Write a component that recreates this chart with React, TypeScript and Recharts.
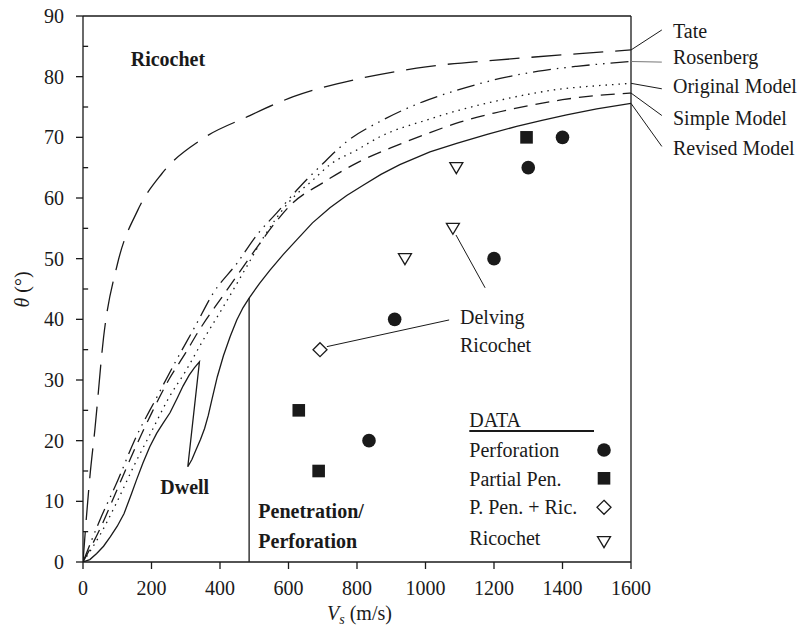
import React from 'react';
import { ComposedChart, Line, Scatter, XAxis, YAxis, ReferenceLine } from 'recharts';

const W = 801;
const H = 629;
const PLOT = { left: 83, top: 16, right: 631, bottom: 562 };
const X_MAX = 1600;
const Y_MAX = 90;
const FONT = '"Liberation Serif", "Times New Roman", serif';
const INK = '#1a1a1a';

const xTicks = [0, 200, 400, 600, 800, 1000, 1200, 1400, 1600];
const yTicks = [0, 10, 20, 30, 40, 50, 60, 70, 80, 90];
const yMinorTicks = [5, 15, 25, 35, 45, 55, 65, 75, 85];

const tate = [
  { x: 0, y: 0 }, { x: 8, y: 6 }, { x: 20, y: 14 }, { x: 35, y: 22 }, { x: 60, y: 37 },
  { x: 100, y: 49 }, { x: 160, y: 58 }, { x: 230, y: 64 }, { x: 350, y: 69.8 },
  { x: 480, y: 73.4 }, { x: 614, y: 76.7 }, { x: 809, y: 79.7 }, { x: 974, y: 81.4 },
  { x: 1266, y: 83 }, { x: 1450, y: 83.8 }, { x: 1600, y: 84.4 },
];

const rosenberg = [
  { x: 0, y: 0 }, { x: 50, y: 7 }, { x: 102, y: 13.5 }, { x: 150, y: 20 }, { x: 214, y: 27 },
  { x: 270, y: 33 }, { x: 327, y: 38.8 }, { x: 380, y: 44.3 }, { x: 449, y: 49.2 },
  { x: 512, y: 54.2 }, { x: 565, y: 57.5 }, { x: 634, y: 61.9 }, { x: 692, y: 65.2 },
  { x: 770, y: 69.3 }, { x: 877, y: 72.9 }, { x: 994, y: 75.9 }, { x: 1100, y: 77.9 },
  { x: 1218, y: 79.7 }, { x: 1330, y: 80.9 }, { x: 1441, y: 81.7 }, { x: 1600, y: 82.5 },
];

const original = [
  { x: 0, y: 0 }, { x: 50, y: 4.5 }, { x: 100, y: 10 }, { x: 150, y: 16 }, { x: 200, y: 21.5 },
  { x: 250, y: 27 }, { x: 300, y: 31.5 }, { x: 351, y: 36.6 }, { x: 410, y: 42.1 },
  { x: 478, y: 48.7 }, { x: 527, y: 53.5 }, { x: 604, y: 59.5 }, { x: 672, y: 63 },
  { x: 721, y: 65.5 }, { x: 799, y: 67.9 }, { x: 867, y: 70.1 }, { x: 1000, y: 72.8 },
  { x: 1100, y: 74.5 }, { x: 1200, y: 75.9 }, { x: 1300, y: 77.1 }, { x: 1400, y: 78 },
  { x: 1500, y: 78.5 }, { x: 1600, y: 78.9 },
];

const simple = [
  { x: 0, y: 0 }, { x: 50, y: 5.5 }, { x: 100, y: 12 }, { x: 150, y: 18.5 }, { x: 200, y: 24.5 },
  { x: 250, y: 30 }, { x: 300, y: 34.5 }, { x: 337, y: 38 }, { x: 420, y: 44.8 },
  { x: 502, y: 51.4 }, { x: 565, y: 56.2 }, { x: 609, y: 59 }, { x: 700, y: 62.5 },
  { x: 800, y: 65.8 }, { x: 900, y: 68.3 }, { x: 1000, y: 70.5 }, { x: 1100, y: 72.5 },
  { x: 1200, y: 74 }, { x: 1300, y: 75.2 }, { x: 1400, y: 76.2 }, { x: 1500, y: 76.9 },
  { x: 1600, y: 77.3 },
];

const revised = [
  { x: 0, y: 0 }, { x: 20, y: 0.4 }, { x: 40, y: 1.4 }, { x: 60, y: 2.6 }, { x: 80, y: 4.2 },
  { x: 100, y: 5.9 }, { x: 120, y: 8 }, { x: 140, y: 11 }, { x: 156, y: 13.5 },
  { x: 175, y: 16.3 }, { x: 195, y: 19 }, { x: 215, y: 21.2 }, { x: 234, y: 22.9 },
  { x: 254, y: 24.6 }, { x: 275, y: 27 }, { x: 292, y: 29 }, { x: 310, y: 30.8 },
  { x: 325, y: 32 }, { x: 340, y: 33 },
  { x: 306, y: 15.7 },
  { x: 318, y: 16.9 }, { x: 330, y: 18.5 }, { x: 343, y: 20.2 }, { x: 355, y: 22 },
  { x: 366, y: 24.2 }, { x: 376, y: 26.7 }, { x: 392, y: 30.5 }, { x: 410, y: 34 },
  { x: 430, y: 37.2 }, { x: 449, y: 39.9 }, { x: 467, y: 41.9 }, { x: 485, y: 43.5 },
  { x: 515, y: 45.9 }, { x: 546, y: 48.1 }, { x: 585, y: 50.7 }, { x: 624, y: 53.1 },
  { x: 670, y: 55.9 }, { x: 721, y: 58.4 }, { x: 770, y: 60.4 }, { x: 818, y: 62.1 },
  { x: 870, y: 63.9 }, { x: 925, y: 65.5 }, { x: 1013, y: 67.6 }, { x: 1091, y: 69 },
  { x: 1180, y: 70.5 }, { x: 1266, y: 71.8 }, { x: 1340, y: 72.8 }, { x: 1412, y: 73.7 },
  { x: 1500, y: 74.7 }, { x: 1600, y: 75.6 },
];

const perforation = [
  { x: 835, y: 20 }, { x: 910, y: 40 }, { x: 1200, y: 50 }, { x: 1300, y: 65 }, { x: 1400, y: 70 },
];
const partialPen = [
  { x: 630, y: 25 }, { x: 688, y: 15 }, { x: 1295, y: 70 },
];
const penRic = [{ x: 692, y: 35 }];
const ricochetData = [
  { x: 940, y: 50 }, { x: 1080, y: 55 }, { x: 1090, y: 65 },
];

const dwellBoundaryX = 485;
const dwellBoundaryTop = 43.5;

const legendItems = ['Perforation', 'Partial Pen.', 'P. Pen. + Ric.', 'Ricochet'];
const modelLabels = ['Tate', 'Rosenberg', 'Original Model', 'Simple Model', 'Revised Model'];
const modelEnds = [84.4, 82.5, 78.9, 77.3, 75.6];
const modelLabelY = [87.5, 83.2, 78.4, 73.2, 68.3];

const px = (x: number) => PLOT.left + (x / X_MAX) * (PLOT.right - PLOT.left);
const py = (y: number) => PLOT.bottom - (y / Y_MAX) * (PLOT.bottom - PLOT.top);

const SW = 1.3;

const Circle = (p: any) => <circle cx={p.cx} cy={p.cy} r={6.8} fill={INK} />;
const Square = (p: any) => <rect x={p.cx - 6.3} y={p.cy - 6.3} width={12.6} height={12.6} fill={INK} />;
const Diamond = (p: any) => (
  <polygon points={`${p.cx},${p.cy - 7} ${p.cx + 7},${p.cy} ${p.cx},${p.cy + 7} ${p.cx - 7},${p.cy}`} fill="#fff" stroke={INK} strokeWidth={1.3} />
);
const TriDown = (p: any) => (
  <polygon points={`${p.cx - 6.5},${p.cy - 5} ${p.cx + 6.5},${p.cy - 5} ${p.cx},${p.cy + 6}`} fill="#fff" stroke={INK} strokeWidth={1.3} />
);

export default function App() {
  const legendBaselines = [457.3, 485.7, 514.3, 545];
  const markerYs = [450, 478.3, 507.3, 541.7];
  const markerShapes = [Circle, Square, Diamond, TriDown];
  const textStyle = { fontFamily: FONT, fontSize: 20, fill: INK } as const;
  const labelEndX = 1690;
  return (
    <div style={{ position: 'absolute', left: 0, top: 0, width: W, height: H, background: '#fff' }}>
      <ComposedChart
        width={W}
        height={H}
        margin={{ top: PLOT.top, right: W - PLOT.right, bottom: H - PLOT.bottom - 40, left: PLOT.left - 60 }}
      >
        <XAxis
          type="number"
          dataKey="x"
          domain={[0, X_MAX]}
          ticks={xTicks}
          interval={0}
          height={40}
          tickSize={7}
          tickMargin={12}
          stroke={INK}
          strokeWidth={SW}
          tick={{ fontFamily: FONT, fontSize: 20, fill: INK }}
          allowDataOverflow
        />
        <YAxis
          type="number"
          dataKey="y"
          domain={[0, Y_MAX]}
          ticks={yTicks}
          interval={0}
          width={60}
          tickSize={7}
          tickMargin={12}
          stroke={INK}
          strokeWidth={SW}
          tick={{ fontFamily: FONT, fontSize: 20, fill: INK }}
          allowDataOverflow
        />
        <ReferenceLine y={Y_MAX} stroke={INK} strokeWidth={SW} />
        <ReferenceLine x={X_MAX} stroke={INK} strokeWidth={SW} />
        {yMinorTicks.map((v) => (
          <ReferenceLine key={v} segment={[{ x: 0, y: v }, { x: 15, y: v }]} stroke={INK} strokeWidth={SW} />
        ))}
        <ReferenceLine
          segment={[{ x: dwellBoundaryX, y: 0 }, { x: dwellBoundaryX, y: dwellBoundaryTop }]}
          stroke={INK}
          strokeWidth={SW}
        />
        <ReferenceLine segment={[{ x: 712, y: 35.5 }, { x: 1069, y: 39.9 }]} stroke={INK} strokeWidth={1} />
        <ReferenceLine segment={[{ x: 1089, y: 53.9 }, { x: 1174, y: 45.2 }]} stroke={INK} strokeWidth={1} />

        <Line data={tate} dataKey="y" type="monotone" stroke={INK} strokeWidth={SW} strokeDasharray="30 12" dot={false} isAnimationActive={false} />
        <Line data={rosenberg} dataKey="y" type="monotone" stroke={INK} strokeWidth={SW} strokeDasharray="18 6 1.5 6 1.5 6" dot={false} isAnimationActive={false} />
        <Line data={original} dataKey="y" type="monotone" stroke={INK} strokeWidth={SW} strokeDasharray="1.5 5" dot={false} isAnimationActive={false} />
        <Line data={simple} dataKey="y" type="monotone" stroke={INK} strokeWidth={SW} strokeDasharray="14 8" dot={false} isAnimationActive={false} />
        <Line data={revised} dataKey="y" type="linear" stroke={INK} strokeWidth={SW} dot={false} isAnimationActive={false} />

        <Scatter data={perforation} dataKey="y" shape={Circle} isAnimationActive={false} />
        <Scatter data={partialPen} dataKey="y" shape={Square} isAnimationActive={false} />
        <Scatter data={penRic} dataKey="y" shape={Diamond} isAnimationActive={false} />
        <Scatter data={ricochetData} dataKey="y" shape={TriDown} isAnimationActive={false} />
      </ComposedChart>

      <svg width={W} height={H} style={{ position: 'absolute', left: 0, top: 0, pointerEvents: 'none' }}>
        <text x={130.7} y={65.7} {...textStyle} fontWeight="bold">Ricochet</text>
        <text x={160.3} y={494} {...textStyle} fontWeight="bold">Dwell</text>
        <text x={258.3} y={518.3} {...textStyle} fontWeight="bold">Penetration/</text>
        <text x={258.3} y={547.7} {...textStyle} fontWeight="bold">Perforation</text>
        <text x={460} y={324} {...textStyle}>Delving</text>
        <text x={460} y={351.7} {...textStyle}>Ricochet</text>

        <text x={469.3} y={427.3} {...textStyle}>DATA</text>
        <line x1={469.3} x2={594} y1={431} y2={431} stroke={INK} strokeWidth={1.8} />
        {legendItems.map((t, i) => (
          <text key={t} x={469.3} y={legendBaselines[i]} {...textStyle}>{t}</text>
        ))}
        {markerShapes.map((S, i) => (
          <S key={i} cx={604} cy={markerYs[i]} />
        ))}

        {modelLabels.map((t, i) => (
          <g key={t}>
            <line
              x1={px(X_MAX)}
              y1={py(modelEnds[i])}
              x2={px(labelEndX)}
              y2={py([87.7, 82.4, 78, 73.6, 68.5][i])}
              stroke={i === 1 ? '#777' : INK}
              strokeWidth={1}
            />
            <text x={673} y={py(modelLabelY[i]) + 7} {...textStyle}>{t}</text>
          </g>
        ))}

        <text x={327} y={620} {...textStyle}>
          <tspan fontStyle="italic">V</tspan>
          <tspan fontStyle="italic" fontSize={14} dy={4}>s</tspan>
          <tspan dy={-4}> (m/s)</tspan>
        </text>
        <text x={29} y={289.5} {...textStyle} textAnchor="middle" transform="rotate(-90 29 289.5)">
          <tspan fontStyle="italic">θ</tspan>
          <tspan> (°)</tspan>
        </text>
      </svg>
    </div>
  );
}
